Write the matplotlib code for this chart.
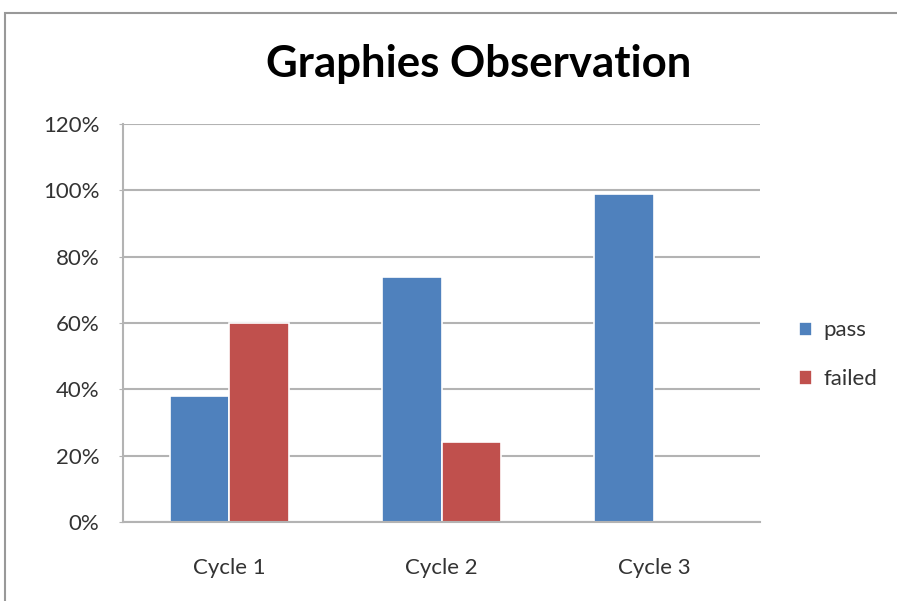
import matplotlib.pyplot as plt
import numpy as np
from matplotlib.patches import Rectangle
from matplotlib.ticker import PercentFormatter

cycles = ['Cycle 1', 'Cycle 2', 'Cycle 3']
passed = [38, 74, 99]
failed = [60, 24, 0]

plt.rcParams['font.family'] = ['Lato', 'DejaVu Sans']

fig = plt.figure(figsize=(8.97, 6.01), dpi=100)
ax = fig.add_axes([123 / 897, 1 - 522 / 601, (760 - 123) / 897, (522 - 124) / 601])

x = np.arange(len(cycles))
w = 0.28
ax.bar(x - w / 2, passed, w, color='#4f81bd', edgecolor='white', linewidth=1.2, label='pass', zorder=3)
ax.bar(x + w / 2, failed, w, color='#c0504d', edgecolor='white', linewidth=1.2, label='failed', zorder=3)

ax.set_xlim(-0.5, 2.5)
ax.set_ylim(0, 120)
ax.set_yticks(np.arange(0, 121, 20))
ax.yaxis.set_major_formatter(PercentFormatter(decimals=0))
ax.set_xticks(x)
ax.set_xticklabels(cycles)
ax.grid(axis='y', color='#b3b3b3', linewidth=1.5, zorder=0)
ax.tick_params(axis='y', length=3, color='#b3b3b3', labelsize=16, labelcolor='#333333', pad=14)
ax.tick_params(axis='x', length=0, labelsize=16, labelcolor='#333333', pad=26)
for s in ['top', 'right']:
    ax.spines[s].set_visible(False)
for s in ['left', 'bottom']:
    ax.spines[s].set_color('#b3b3b3')
    ax.spines[s].set_linewidth(1.5)
    ax.spines[s].set_zorder(4)

fig.text(479 / 897, 1 - 64 / 601, 'Graphies Observation', fontsize=31.5, fontweight='bold',
         ha='center', va='center')

ax.legend(loc='center left', bbox_to_anchor=(1.03, 0.42), frameon=False, fontsize=16,
          handlelength=0.6, handleheight=0.6, handletextpad=0.5, labelspacing=1.3,
          labelcolor='#333333')

# outer chart border running off the right and bottom edges
fig.patches.append(Rectangle((5 / 897, -0.1), 1.2, 1.1 - 13 / 601, transform=fig.transFigure,
                             fill=False, edgecolor='#999999', linewidth=1.5))

fig.savefig('out.png', dpi=100)
